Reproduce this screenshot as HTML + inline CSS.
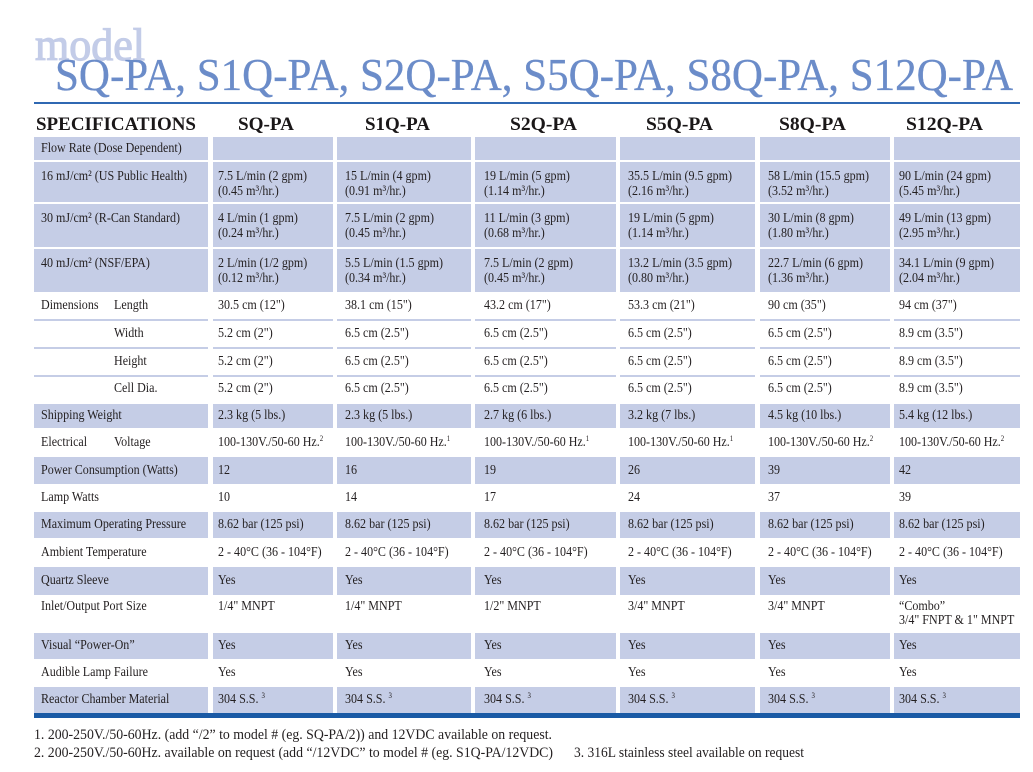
<!DOCTYPE html>
<html><head><meta charset="utf-8">
<style>
html,body{margin:0;padding:0;background:#fff}
body{width:1033px;height:772px;position:relative;overflow:hidden;font-family:"Liberation Serif",serif}
.bl{position:absolute;left:34px;width:986px;background:#c5cde6}
.gap{position:absolute;top:137px;height:576px;background:#fff}
.t{position:absolute;font-family:"Liberation Serif",serif;font-size:14px;line-height:14px;color:#231f20;white-space:nowrap;transform:scaleX(.86);transform-origin:0 50%}
.a{left:41px}.s{left:114px}.b{left:218px}.c{left:345px}.d{left:484px}.e{left:628px}.f{left:768px}.g{left:899px}
sup{font-size:8px;vertical-align:baseline;position:relative;top:-5px}
</style></head><body>

<svg style="position:absolute;left:0;top:0" width="1033" height="140">
<text x="35" y="60" font-family="Liberation Serif" font-size="46" fill="#c3cce8" stroke="#c3cce8" stroke-width="1.2" textLength="110" lengthAdjust="spacingAndGlyphs">model</text>
<text x="55" y="90" font-family="Liberation Serif" font-size="45" fill="#6b8cc9" stroke="#6b8cc9" stroke-width="0.3" textLength="958" lengthAdjust="spacingAndGlyphs">SQ-PA, S1Q-PA, S2Q-PA, S5Q-PA, S8Q-PA, S12Q-PA</text>
<rect x="34" y="102" width="986" height="2" fill="#2f68b2"/>
<g font-family="Liberation Serif" font-weight="bold" font-size="19" fill="#1a1718">
<text x="36" y="130" textLength="160" lengthAdjust="spacingAndGlyphs">SPECIFICATIONS</text>
<text x="238" y="130" textLength="56" lengthAdjust="spacingAndGlyphs">SQ-PA</text>
<text x="365" y="130" textLength="65" lengthAdjust="spacingAndGlyphs">S1Q-PA</text>
<text x="510" y="130" textLength="67" lengthAdjust="spacingAndGlyphs">S2Q-PA</text>
<text x="646" y="130" textLength="67" lengthAdjust="spacingAndGlyphs">S5Q-PA</text>
<text x="779" y="130" textLength="67" lengthAdjust="spacingAndGlyphs">S8Q-PA</text>
<text x="906" y="130" textLength="77" lengthAdjust="spacingAndGlyphs">S12Q-PA</text>
</g>
</svg>

<!-- blue rows -->
<div class="bl" style="top:137px;height:23px"></div>
<div class="bl" style="top:162px;height:40px"></div>
<div class="bl" style="top:204px;height:43px"></div>
<div class="bl" style="top:249px;height:43px"></div>
<div class="bl" style="top:319px;height:2px"></div>
<div class="bl" style="top:347px;height:2px"></div>
<div class="bl" style="top:375px;height:2px"></div>
<div class="bl" style="top:404px;height:24px"></div>
<div class="bl" style="top:457px;height:27px"></div>
<div class="bl" style="top:512px;height:26px"></div>
<div class="bl" style="top:567px;height:28px"></div>
<div class="bl" style="top:633px;height:26px"></div>
<div class="bl" style="top:687px;height:26px"></div>
<!-- column gaps -->
<div class="gap" style="left:208px;width:5px"></div>
<div class="gap" style="left:333px;width:4px"></div>
<div class="gap" style="left:471px;width:4px"></div>
<div class="gap" style="left:616px;width:4px"></div>
<div class="gap" style="left:755px;width:5px"></div>
<div class="gap" style="left:890px;width:4px"></div>
<!-- bottom bar -->
<div style="position:absolute;left:34px;top:713px;width:986px;height:5px;background:#1a5aa5"></div>

<!-- Flow rate -->
<div class="t a" style="top:142px">Flow Rate (Dose Dependent)</div>

<div class="t a" style="top:170px">16 mJ/cm² (US Public Health)</div>
<div class="t b" style="top:170px">7.5 L/min (2 gpm)</div><div class="t b" style="top:184.5px">(0.45 m³/hr.)</div>
<div class="t c" style="top:170px">15 L/min (4 gpm)</div><div class="t c" style="top:184.5px">(0.91 m³/hr.)</div>
<div class="t d" style="top:170px">19 L/min (5 gpm)</div><div class="t d" style="top:184.5px">(1.14 m³/hr.)</div>
<div class="t e" style="top:170px">35.5 L/min (9.5 gpm)</div><div class="t e" style="top:184.5px">(2.16 m³/hr.)</div>
<div class="t f" style="top:170px">58 L/min (15.5 gpm)</div><div class="t f" style="top:184.5px">(3.52 m³/hr.)</div>
<div class="t g" style="top:170px">90 L/min (24 gpm)</div><div class="t g" style="top:184.5px">(5.45 m³/hr.)</div>

<div class="t a" style="top:212px">30 mJ/cm² (R-Can Standard)</div>
<div class="t b" style="top:212px">4 L/min (1 gpm)</div><div class="t b" style="top:226.5px">(0.24 m³/hr.)</div>
<div class="t c" style="top:212px">7.5 L/min (2 gpm)</div><div class="t c" style="top:226.5px">(0.45 m³/hr.)</div>
<div class="t d" style="top:212px">11 L/min (3 gpm)</div><div class="t d" style="top:226.5px">(0.68 m³/hr.)</div>
<div class="t e" style="top:212px">19 L/min (5 gpm)</div><div class="t e" style="top:226.5px">(1.14 m³/hr.)</div>
<div class="t f" style="top:212px">30 L/min (8 gpm)</div><div class="t f" style="top:226.5px">(1.80 m³/hr.)</div>
<div class="t g" style="top:212px">49 L/min (13 gpm)</div><div class="t g" style="top:226.5px">(2.95 m³/hr.)</div>

<div class="t a" style="top:257px">40 mJ/cm² (NSF/EPA)</div>
<div class="t b" style="top:257px">2 L/min (1/2 gpm)</div><div class="t b" style="top:271.5px">(0.12 m³/hr.)</div>
<div class="t c" style="top:257px">5.5 L/min (1.5 gpm)</div><div class="t c" style="top:271.5px">(0.34 m³/hr.)</div>
<div class="t d" style="top:257px">7.5 L/min (2 gpm)</div><div class="t d" style="top:271.5px">(0.45 m³/hr.)</div>
<div class="t e" style="top:257px">13.2 L/min (3.5 gpm)</div><div class="t e" style="top:271.5px">(0.80 m³/hr.)</div>
<div class="t f" style="top:257px">22.7 L/min (6 gpm)</div><div class="t f" style="top:271.5px">(1.36 m³/hr.)</div>
<div class="t g" style="top:257px">34.1 L/min (9 gpm)</div><div class="t g" style="top:271.5px">(2.04 m³/hr.)</div>

<!-- Dimensions -->
<div class="t a" style="top:299px">Dimensions</div><div class="t s" style="top:299px">Length</div>
<div class="t b" style="top:299px">30.5 cm (12")</div>
<div class="t c" style="top:299px">38.1 cm (15")</div>
<div class="t d" style="top:299px">43.2 cm (17")</div>
<div class="t e" style="top:299px">53.3 cm (21")</div>
<div class="t f" style="top:299px">90 cm (35")</div>
<div class="t g" style="top:299px">94 cm (37")</div>

<div class="t s" style="top:327px">Width</div>
<div class="t b" style="top:327px">5.2 cm (2")</div>
<div class="t c" style="top:327px">6.5 cm (2.5")</div>
<div class="t d" style="top:327px">6.5 cm (2.5")</div>
<div class="t e" style="top:327px">6.5 cm (2.5")</div>
<div class="t f" style="top:327px">6.5 cm (2.5")</div>
<div class="t g" style="top:327px">8.9 cm (3.5")</div>

<div class="t s" style="top:355px">Height</div>
<div class="t b" style="top:355px">5.2 cm (2")</div>
<div class="t c" style="top:355px">6.5 cm (2.5")</div>
<div class="t d" style="top:355px">6.5 cm (2.5")</div>
<div class="t e" style="top:355px">6.5 cm (2.5")</div>
<div class="t f" style="top:355px">6.5 cm (2.5")</div>
<div class="t g" style="top:355px">8.9 cm (3.5")</div>

<div class="t s" style="top:382px">Cell Dia.</div>
<div class="t b" style="top:382px">5.2 cm (2")</div>
<div class="t c" style="top:382px">6.5 cm (2.5")</div>
<div class="t d" style="top:382px">6.5 cm (2.5")</div>
<div class="t e" style="top:382px">6.5 cm (2.5")</div>
<div class="t f" style="top:382px">6.5 cm (2.5")</div>
<div class="t g" style="top:382px">8.9 cm (3.5")</div>

<div class="t a" style="top:409px">Shipping Weight</div>
<div class="t b" style="top:409px">2.3 kg (5 lbs.)</div>
<div class="t c" style="top:409px">2.3 kg (5 lbs.)</div>
<div class="t d" style="top:409px">2.7 kg (6 lbs.)</div>
<div class="t e" style="top:409px">3.2 kg (7 lbs.)</div>
<div class="t f" style="top:409px">4.5 kg (10 lbs.)</div>
<div class="t g" style="top:409px">5.4 kg (12 lbs.)</div>

<div class="t a" style="top:436px">Electrical</div><div class="t s" style="top:436px">Voltage</div>
<div class="t b" style="top:436px">100-130V./50-60 Hz.<sup>2</sup></div>
<div class="t c" style="top:436px">100-130V./50-60 Hz.<sup>1</sup></div>
<div class="t d" style="top:436px">100-130V./50-60 Hz.<sup>1</sup></div>
<div class="t e" style="top:436px">100-130V./50-60 Hz.<sup>1</sup></div>
<div class="t f" style="top:436px">100-130V./50-60 Hz.<sup>2</sup></div>
<div class="t g" style="top:436px">100-130V./50-60 Hz.<sup>2</sup></div>

<div class="t a" style="top:464px">Power Consumption (Watts)</div>
<div class="t b" style="top:464px">12</div>
<div class="t c" style="top:464px">16</div>
<div class="t d" style="top:464px">19</div>
<div class="t e" style="top:464px">26</div>
<div class="t f" style="top:464px">39</div>
<div class="t g" style="top:464px">42</div>

<div class="t a" style="top:491px">Lamp Watts</div>
<div class="t b" style="top:491px">10</div>
<div class="t c" style="top:491px">14</div>
<div class="t d" style="top:491px">17</div>
<div class="t e" style="top:491px">24</div>
<div class="t f" style="top:491px">37</div>
<div class="t g" style="top:491px">39</div>

<div class="t a" style="top:518px">Maximum Operating Pressure</div>
<div class="t b" style="top:518px">8.62 bar (125 psi)</div>
<div class="t c" style="top:518px">8.62 bar (125 psi)</div>
<div class="t d" style="top:518px">8.62 bar (125 psi)</div>
<div class="t e" style="top:518px">8.62 bar (125 psi)</div>
<div class="t f" style="top:518px">8.62 bar (125 psi)</div>
<div class="t g" style="top:518px">8.62 bar (125 psi)</div>

<div class="t a" style="top:546px">Ambient Temperature</div>
<div class="t b" style="top:546px">2 - 40°C (36 - 104°F)</div>
<div class="t c" style="top:546px">2 - 40°C (36 - 104°F)</div>
<div class="t d" style="top:546px">2 - 40°C (36 - 104°F)</div>
<div class="t e" style="top:546px">2 - 40°C (36 - 104°F)</div>
<div class="t f" style="top:546px">2 - 40°C (36 - 104°F)</div>
<div class="t g" style="top:546px">2 - 40°C (36 - 104°F)</div>

<div class="t a" style="top:574px">Quartz Sleeve</div>
<div class="t b" style="top:574px">Yes</div>
<div class="t c" style="top:574px">Yes</div>
<div class="t d" style="top:574px">Yes</div>
<div class="t e" style="top:574px">Yes</div>
<div class="t f" style="top:574px">Yes</div>
<div class="t g" style="top:574px">Yes</div>

<div class="t a" style="top:600px">Inlet/Output Port Size</div>
<div class="t b" style="top:600px">1/4" MNPT</div>
<div class="t c" style="top:600px">1/4" MNPT</div>
<div class="t d" style="top:600px">1/2" MNPT</div>
<div class="t e" style="top:600px">3/4" MNPT</div>
<div class="t f" style="top:600px">3/4" MNPT</div>
<div class="t g" style="top:600px">“Combo”</div>
<div class="t g" style="top:614px">3/4" FNPT &amp; 1" MNPT</div>

<div class="t a" style="top:639px">Visual “Power-On”</div>
<div class="t b" style="top:639px">Yes</div>
<div class="t c" style="top:639px">Yes</div>
<div class="t d" style="top:639px">Yes</div>
<div class="t e" style="top:639px">Yes</div>
<div class="t f" style="top:639px">Yes</div>
<div class="t g" style="top:639px">Yes</div>

<div class="t a" style="top:666px">Audible Lamp Failure</div>
<div class="t b" style="top:666px">Yes</div>
<div class="t c" style="top:666px">Yes</div>
<div class="t d" style="top:666px">Yes</div>
<div class="t e" style="top:666px">Yes</div>
<div class="t f" style="top:666px">Yes</div>
<div class="t g" style="top:666px">Yes</div>

<div class="t a" style="top:693px">Reactor Chamber Material</div>
<div class="t b" style="top:693px">304 S.S. <sup>3</sup></div>
<div class="t c" style="top:693px">304 S.S. <sup>3</sup></div>
<div class="t d" style="top:693px">304 S.S. <sup>3</sup></div>
<div class="t e" style="top:693px">304 S.S. <sup>3</sup></div>
<div class="t f" style="top:693px">304 S.S. <sup>3</sup></div>
<div class="t g" style="top:693px">304 S.S. <sup>3</sup></div>

<svg style="position:absolute;left:0;top:720px" width="1033" height="52">
<g font-family="Liberation Serif" font-size="15" fill="#231f20">
<text x="34" y="19" textLength="518" lengthAdjust="spacingAndGlyphs">1. 200-250V./50-60Hz. (add “/2” to model # (eg. SQ-PA/2)) and 12VDC available on request.</text>
<text x="34" y="37" textLength="519" lengthAdjust="spacingAndGlyphs">2. 200-250V./50-60Hz. available on request (add “/12VDC” to model # (eg. S1Q-PA/12VDC)</text>
<text x="574" y="37" textLength="230" lengthAdjust="spacingAndGlyphs">3.  316L stainless steel available on request</text>
</g>
</svg>

</body></html>
